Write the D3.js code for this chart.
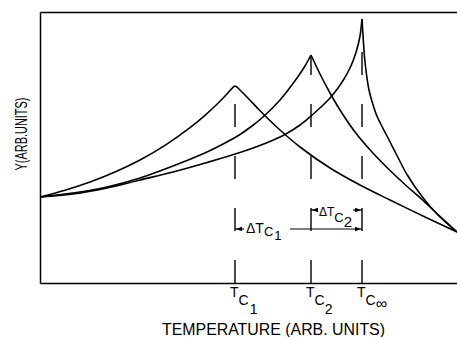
<!DOCTYPE html>
<html><head><meta charset="utf-8">
<script src="https://cdn.jsdelivr.net/npm/d3@7"></script>
<style>body{margin:0;background:#fff}svg{display:block}</style>
</head><body>
<svg id="c" width="457" height="337"></svg>
<script>
// Data (arbitrary units)
const curve1 = [[0,86],[25,92.8],[50,101],[75,111],[100,123],[125,137.6],[150,155.3],[165,167.7],[178,179.7],[186,188],[190,192.5],[193,195.6],[195,197],[197,195.8],[200,193],[204,189],[210,182.8],[220,172.3],[240,153],[260,136],[290,115],[320,98],[350,83],[385,66],[417,51]];
const curve2 = [[0,86],[33,90],[67,96],[100,105],[133,117],[167,131],[185,140],[200,148.5],[212,157],[223,166],[240,183],[257,205],[265,217],[271,228],[280,209],[290,190],[300,173],[315,151],[332,131],[348,114.5],[365,98.5],[382,83.5],[398,68.5],[417,51]];
const curve3 = [[0,86],[33,89],[67,95],[100,103],[133,111],[167,120.5],[200,130.5],[225,139.5],[245,148.5],[260,158],[271,167],[281,176],[290,185],[298,195],[304,204],[309,213],[313,222],[317,234],[320,247],[322,264],[323.3,243],[324.8,223],[326.6,208],[329,193],[332.5,180],[336.5,168],[341,158.5],[347,147],[357,127.5],[367,108.5],[382,86.5],[398,68],[417,51]];
const tcValues = [195, 271, 322];
const tcSubs = ["1", "2", "\u221E"];
const yLabel = "Y(ARB.UNITS)";
const xLabel = "TEMPERATURE  (ARB. UNITS)";

const svg = d3.select("#c");
const x = d3.scaleLinear().domain([0, 417]).range([40, 457]);
const y = d3.scaleLinear().domain([0, 271]).range([283, 12]);
const font = "'Liberation Sans', Arial, sans-serif";

// frame
const axStyle = g => { g.select(".domain").attr("stroke", "#000").attr("stroke-width", 1.5); g.selectAll(".tick").remove(); };
svg.append("g").attr("transform", "translate(40,0)").call(d3.axisLeft(y).tickValues([]).tickSizeOuter(0)).call(axStyle);
svg.append("g").attr("transform", "translate(0,283)").call(d3.axisBottom(x).tickValues([]).tickSizeOuter(0)).call(axStyle);
svg.append("g").attr("transform", "translate(0,12)").call(d3.axisTop(x).tickValues([]).tickSizeOuter(0)).call(axStyle);

// dashed verticals from bottom up to the peak of each curve
const peaks = [curve1, curve2, curve3].map(c => d3.max(c, d => d[1]));
tcValues.forEach((t, i) => {
  svg.append("line")
    .attr("x1", x(t)).attr("x2", x(t))
    .attr("y1", y(0)).attr("y2", y(peaks[i]))
    .attr("stroke", "#000").attr("stroke-width", 1.4)
    .attr("stroke-dasharray", "23,29");
});

// curves
const line = d3.line().x(d => x(d[0])).y(d => y(d[1])).curve(d3.curveCatmullRom.alpha(0.5));
function drawCurve(c, cusp) {
  const segs = cusp ? (pi => [c.slice(0, pi + 1), c.slice(pi)])(d3.maxIndex(c, d => d[1])) : [c];
  segs.forEach(seg => {
    svg.append("path").attr("d", line(seg)).attr("fill", "none")
      .attr("stroke", "#000").attr("stroke-width", 1.6).attr("stroke-linejoin", "miter");
  });
}
drawCurve(curve1, false);
drawCurve(curve2, true);
drawCurve(curve3, true);

// tick labels Tc
tcValues.forEach((t, i) => {
  const tx = svg.append("text").attr("x", x(t) - 5).attr("y", 297)
    .attr("font-family", font).attr("fill", "#000");
  tx.append("tspan").attr("font-size", 14).text("T");
  tx.append("tspan").attr("font-size", 14).attr("dy", 8).text("C");
  tx.append("tspan").attr("font-size", i === 2 ? 16 : 14).attr("dx", i === 0 ? 1 : 0).attr("dy", i === 2 ? 4 : 9).text(tcSubs[i]);
});

// arrows
function arrow(px, py, dir) {
  svg.append("path")
    .attr("d", `M${px},${py}L${px - dir * 6},${py - 2.2}L${px - dir * 6},${py + 2.2}Z`)
    .attr("fill", "#000");
}
function hseg(x1, x2, yy) {
  svg.append("line").attr("x1", x1).attr("x2", x2).attr("y1", yy).attr("y2", yy)
    .attr("stroke", "#000").attr("stroke-width", 1.2);
}
// ΔTc1 : from Tc1 to Tc∞
const yA = 229;
hseg(x(tcValues[0]), x(tcValues[0]) + 9, yA);
arrow(x(tcValues[0]) + 1, yA, -1);
hseg(x(tcValues[0]) + 55, x(tcValues[2]), yA);
arrow(x(tcValues[2]) - 1, yA, 1);
const tA = svg.append("text").attr("x", x(tcValues[0]) + 11).attr("y", 233).attr("font-family", font);
tA.append("tspan").attr("font-size", 14).text("\u0394T");
tA.append("tspan").attr("font-size", 13).attr("dy", 3).text("C");
tA.append("tspan").attr("font-size", 13).attr("dx", 1).attr("dy", 4).text("1");

// ΔTc2 : from Tc2 to Tc∞
const yB = 210;
hseg(x(tcValues[1]), x(tcValues[1]) + 7, yB);
arrow(x(tcValues[1]) + 1, yB, -1);
hseg(x(tcValues[2]) - 9, x(tcValues[2]), yB);
arrow(x(tcValues[2]) - 1, yB, 1);
const tB = svg.append("text").attr("x", x(tcValues[1]) + 8).attr("y", 216).attr("font-family", font);
tB.append("tspan").attr("font-size", 12).text("\u0394T");
tB.append("tspan").attr("font-size", 13).attr("dy", 6).text("C");
tB.append("tspan").attr("font-size", 15).attr("dy", 5).text("2");

// axis titles
svg.append("text").attr("transform", "translate(27,134) rotate(-90)")
  .attr("text-anchor", "middle").attr("font-family", font).attr("font-size", 17)
  .attr("textLength", 73).attr("lengthAdjust", "spacingAndGlyphs").text(yLabel);
svg.append("text").attr("x", 162).attr("y", 335)
  .attr("font-family", font).attr("font-size", 16)
  .attr("textLength", 223).attr("lengthAdjust", "spacingAndGlyphs").text(xLabel);
</script>
</body></html>
